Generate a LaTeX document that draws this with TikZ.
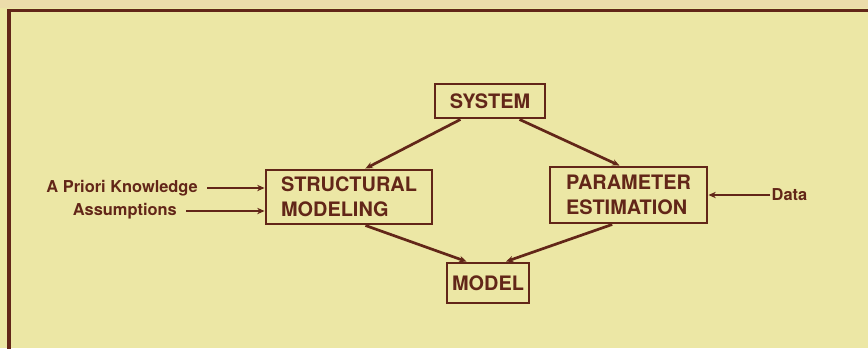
\documentclass[tikz,border=0pt]{standalone}
\usepackage{fontspec}
\setmainfont{TeX Gyre Heros}
\usetikzlibrary{arrows.meta,positioning}
\definecolor{ink}{RGB}{98,38,24}
\definecolor{paper}{RGB}{236,231,165}
\definecolor{edge}{RGB}{236,220,170}
\tikzset{
  blk/.style={draw=ink, rectangle, line width=2.5pt, align=left, text=ink, inner sep=0pt, font=\fontsize{17}{21}\selectfont\bfseries},
  lbl/.style={text=ink, inner sep=0pt, font=\fontsize{14}{16}\selectfont\bfseries},
  arr/.style={-{Stealth[length=2.2mm, width=1.9mm]}, draw=ink, line width=2.3pt},
  frm/.style={draw=ink, line width=2.6pt},
}
\begin{document}
\begin{tikzpicture}

\useasboundingbox (0,0) rectangle (26.04,-10.44);
\clip (0,0) rectangle (26.04,-10.44);
\fill[paper] (0,0) rectangle (26.04,-10.44);
\fill[edge] (0,0) rectangle (26.04,-0.25);
\draw[frm] (0.27,-11) |- (27,-0.315);

\node[blk, minimum width=3.3cm, minimum height=1.02cm] (system) at (14.70,-3.03) {SYSTEM};
\node[blk, minimum width=4.98cm, minimum height=1.62cm] (struct) at (10.47,-5.91) {STRUCTURAL\\MODELING};
\node[blk, minimum width=4.71cm, minimum height=1.68cm] (param) at (18.855,-5.85) {PARAMETER\\ESTIMATION};
\node[blk, minimum width=2.46cm, minimum height=1.2cm] (model) at (14.64,-8.49) {MODEL};

\node[lbl, anchor=east] (prior) at (5.94,-5.64) {A Priori Knowledge};
\node[lbl, anchor=east] (assump) at (5.31,-6.33) {Assumptions};
\node[lbl, right=1.89cm of param] (data) {Data};

\draw[arr] (system.212) -- (struct.60);
\draw[arr] (system.-32) -- (param.107);
\draw[arr] (struct.-60) -- (model.135);
\draw[arr] (param.241) -- (model.50);
\draw[arr, shorten <=0.27cm] (prior) -- (prior -| struct.west);
\draw[arr, shorten <=0.27cm] (assump) -- (assump -| struct.west);
\draw[arr, shorten <=1pt] (data) -- (param);

\end{tikzpicture}
\end{document}
